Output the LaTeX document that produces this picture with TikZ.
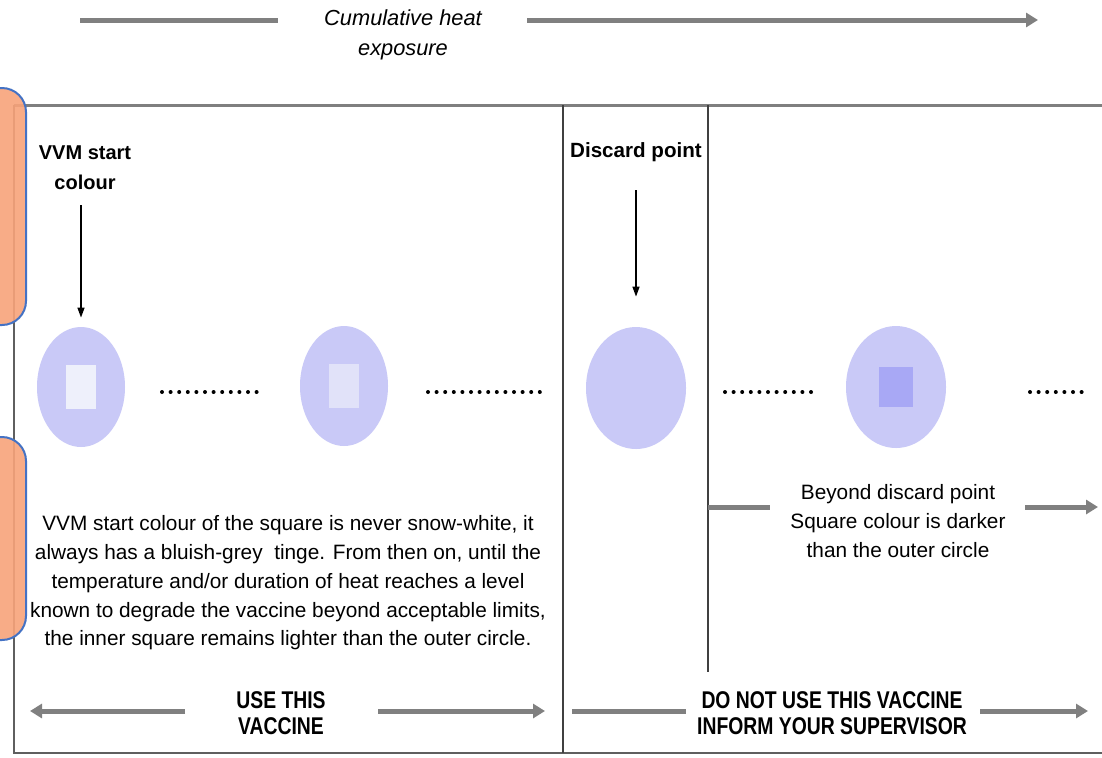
\documentclass[tikz,border=0pt]{standalone}
\usepackage{fontspec}
\setmainfont{Liberation Sans}
\newfontfamily\narrowsans[FakeStretch=0.8]{Liberation Sans}
\usetikzlibrary{positioning,shapes.geometric,arrows.meta}
\definecolor{barGrey}{RGB}{128,128,128}
\definecolor{frameGrey}{RGB}{95,95,95}
\definecolor{vvmBlue}{RGB}{201,201,247}
\definecolor{sqStart}{RGB}{238,240,251}
\definecolor{sqMid}{RGB}{225,226,249}
\definecolor{sqDark}{RGB}{168,168,245}
\definecolor{tabOrange}{RGB}{248,163,122}
\definecolor{tabBlue}{RGB}{68,114,196}
\tikzset{%
  x=0.5pt,y=-0.5pt,
  greybar/.style={draw=barGrey,line width=2.5pt},
  greyarrow/.style={greybar,-{Triangle[length=6pt,width=7pt]}},
  pointer/.style={draw=black,line width=0.7pt,-{Triangle[length=5pt,width=3.5pt]}},
  vial/.style={ellipse,fill=vvmBlue,inner sep=0pt,minimum width=44pt,minimum height=60pt},
  wide vial/.style={vial,minimum width=50pt,minimum height=61pt},
  innersq/.style={rectangle,inner sep=0pt,minimum width=15pt,minimum height=22pt},
  dotrow/.style={line width=2pt,line cap=round,dash pattern=on 0pt off 4.3pt},
  headtxt/.style={font=\fontsize{10}{15}\selectfont\bfseries,align=center,inner sep=0pt},
  notetxt/.style={font=\fontsize{10.4}{14.4}\selectfont,align=center,inner sep=0pt},
  verdicttxt/.style={font=\narrowsans\fontsize{12.1}{13}\selectfont\bfseries,align=center,inner sep=0pt},
  sidetab/.style={draw=tabBlue,line width=1pt,fill=tabOrange,fill opacity=.9,rounded corners=12pt}
}

\begin{document}
\begin{tikzpicture}
	\clip (0,0) rectangle (1102,757);
	\fill[white] (0,0) rectangle (1102,757);

	% heat exposure axis
	\node[font=\fontsize{10.9}{15}\selectfont\itshape,align=center,inner sep=0pt] (cum) at (403,35) {Cumulative heat\\exposure};
	\draw[greybar] (80,20) -- (278,20);
	\draw[greyarrow] (527,20) -- (1038,20);

	% frame
	\draw[frameGrey!80,line width=1.5pt] (14,105) -- (1102,105);
	\draw[frameGrey,line width=1.2pt] (14,105) -- (14,753) -- (1102,753);
	\draw[black!75,line width=0.75pt] (563,105) -- (563,753);
	\draw[black!75,line width=0.75pt] (708,105) -- (708,672);

	% vials
	\node[vial] (c1) at (81,387) {};
	\node[innersq,fill=sqStart] (s1) at (c1) {};
	\node[vial] (c2) at (344,386) {};
	\node[innersq,fill=sqMid] (s2) at (c2) {};
	\node[wide vial] (c3) at (636,388) {};
	\node[wide vial] (c4) at (896,387) {};
	\node[innersq,fill=sqDark,minimum width=17pt,minimum height=20pt] (s4) at (c4) {};

	\draw[dotrow] (162,392) -- (265,392);
	\draw[dotrow] (428,392) -- (548,392);
	\draw[dotrow] (725,392) -- (818,392);
	\draw[dotrow] (1030,392) -- (1088,392);

	% pointers
	\node[headtxt] (vvmtxt) at (85,168) {VVM start\\colour};
	\node[headtxt,font=\fontsize{10.3}{15}\selectfont\bfseries] (disctxt) at (636,152) {Discard point};
	\draw[pointer,shorten <=7.5pt,shorten >=4.5pt] (vvmtxt.south -| c1.north) -- (c1.north);
	\draw[pointer,shorten <=14pt,shorten >=15pt] (disctxt.south -| c3.north) -- (c3.north);

	% notes
	\node[notetxt] (usenote) at (288,583) {%
		VVM start colour of the square is never snow-white, it\\
		always has a bluish-grey\ \ tinge. From then on, until the\\
		temperature and/or duration of heat reaches a level\\
		known to degrade the vaccine beyond acceptable limits,\\
		the inner square remains lighter than the outer circle.};
	\node[notetxt,font=\fontsize{10.4}{14.5}\selectfont] (beyond) at (898,521) {%
		Beyond discard point\\
		Square colour is darker\\
		than the outer circle};
	\draw[greybar] (708,507) -- (770,507);
	\draw[greyarrow] (1025,507) -- (1098,507);

	% verdicts
	\node[verdicttxt] (use) at (281,713) {USE THIS\\VACCINE};
	\node[verdicttxt] (donot) at (832,713) {DO NOT USE THIS VACCINE\\INFORM YOUR SUPERVISOR};
	\draw[greyarrow] (185,711) -- (30,711);
	\draw[greyarrow] (378,711) -- (545,711);
	\draw[greybar] (572,711) -- (686,711);
	\draw[greyarrow] (980,711) -- (1088,711);

	% side tabs
	\draw[sidetab] (-40,88) rectangle (26,325);
	\draw[sidetab] (-40,437) rectangle (26,640);
\end{tikzpicture}
\end{document}
